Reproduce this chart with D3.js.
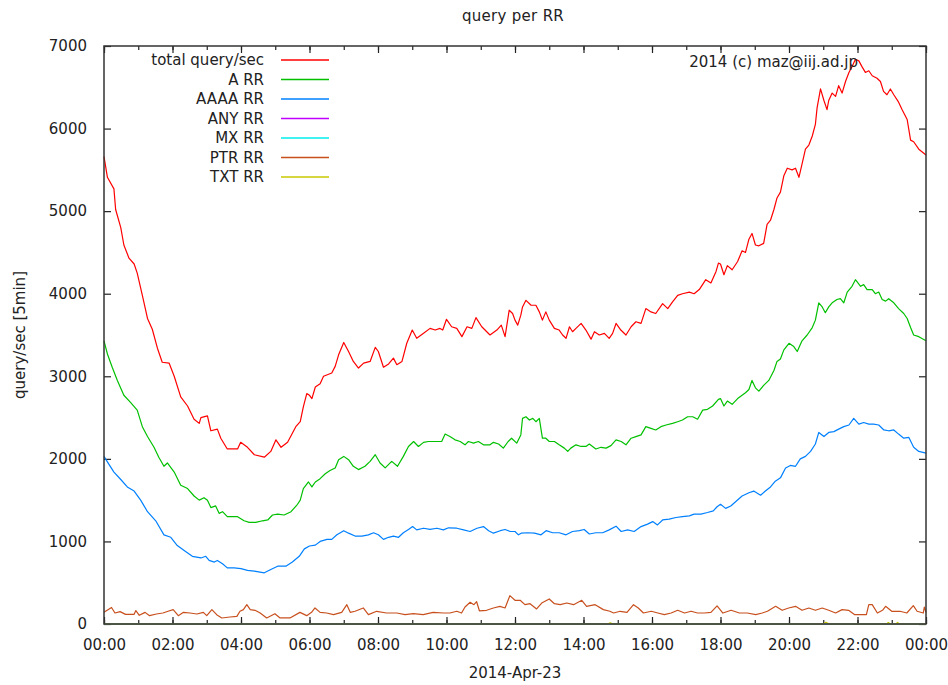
<!DOCTYPE html>
<html>
<head>
<meta charset="utf-8">
<script src="https://cdn.jsdelivr.net/npm/d3@7"></script>
<style>
  body { margin: 0; background: #fff; }
  svg text { font-family: "DejaVu Sans", sans-serif; fill: #222; }
</style>
</head>
<body>
<div id="chart"></div>
<script>
// series: [hour of day, query/sec]
const totalQuery = [[0,5660],[0.1,5410],[0.29,5270],[0.34,5020],[0.49,4800],[0.58,4590],[0.73,4430],[0.88,4360],[0.97,4250],[1.12,3980],[1.27,3700],[1.41,3570],[1.56,3340],[1.7,3170],[1.9,3160],[2.05,3000],[2.24,2750],[2.44,2640],[2.63,2480],[2.78,2430],[2.83,2500],[3.02,2520],[3.12,2340],[3.31,2360],[3.41,2250],[3.6,2120],[3.9,2120],[3.99,2200],[4.19,2140],[4.39,2050],[4.68,2020],[4.87,2090],[5.02,2230],[5.17,2140],[5.36,2200],[5.6,2390],[5.73,2450],[5.82,2630],[5.92,2790],[6.0,2770],[6.07,2730],[6.17,2870],[6.31,2910],[6.41,3000],[6.65,3040],[6.75,3120],[6.85,3260],[7.0,3410],[7.14,3300],[7.28,3180],[7.43,3100],[7.58,3160],[7.77,3180],[7.92,3350],[8.01,3300],[8.16,3110],[8.31,3150],[8.45,3220],[8.55,3140],[8.7,3180],[8.84,3400],[9.0,3560],[9.13,3460],[9.33,3520],[9.52,3580],[9.67,3560],[9.81,3580],[9.89,3560],[10.0,3690],[10.15,3600],[10.3,3580],[10.45,3480],[10.6,3600],[10.74,3580],[10.86,3710],[11.03,3600],[11.27,3500],[11.47,3560],[11.6,3620],[11.71,3480],[11.83,3800],[11.93,3760],[12.0,3680],[12.08,3620],[12.17,3740],[12.22,3840],[12.32,3920],[12.47,3860],[12.61,3860],[12.71,3780],[12.8,3680],[12.9,3780],[13.0,3680],[13.15,3580],[13.29,3560],[13.39,3500],[13.49,3460],[13.59,3600],[13.68,3540],[13.78,3580],[13.93,3640],[14.07,3560],[14.22,3450],[14.32,3540],[14.46,3500],[14.61,3520],[14.75,3460],[14.85,3520],[14.95,3640],[15.09,3560],[15.24,3500],[15.39,3600],[15.53,3660],[15.68,3640],[15.82,3820],[15.97,3780],[16.11,3760],[16.31,3880],[16.46,3820],[16.6,3900],[16.75,3980],[16.89,4000],[17.09,4020],[17.23,4000],[17.38,4050],[17.57,4170],[17.72,4130],[17.87,4270],[17.94,4370],[18.0,4360],[18.1,4230],[18.2,4340],[18.34,4290],[18.5,4390],[18.63,4520],[18.73,4500],[18.83,4660],[18.92,4730],[19.02,4590],[19.12,4580],[19.26,4610],[19.36,4840],[19.46,4890],[19.56,5020],[19.65,5160],[19.75,5230],[19.85,5430],[19.95,5520],[20.09,5500],[20.19,5520],[20.29,5410],[20.38,5570],[20.48,5750],[20.58,5800],[20.68,5910],[20.77,6050],[20.82,6250],[20.92,6480],[21.02,6340],[21.11,6230],[21.16,6340],[21.26,6430],[21.36,6390],[21.45,6520],[21.55,6430],[21.65,6570],[21.75,6680],[21.84,6750],[21.94,6840],[22.04,6820],[22.13,6750],[22.23,6680],[22.33,6700],[22.43,6640],[22.57,6610],[22.67,6570],[22.76,6450],[22.86,6410],[22.96,6480],[23.06,6410],[23.2,6320],[23.3,6230],[23.45,6110],[23.55,5860],[23.64,5840],[23.79,5750],[24,5680]];

const aRR = [[0,3430],[0.1,3270],[0.24,3110],[0.39,2950],[0.58,2770],[0.78,2680],[0.97,2590],[1.12,2390],[1.27,2270],[1.46,2140],[1.6,2020],[1.75,1910],[1.85,1950],[2.05,1840],[2.24,1680],[2.44,1640],[2.63,1550],[2.78,1500],[2.92,1530],[3.02,1500],[3.12,1410],[3.26,1430],[3.36,1340],[3.46,1360],[3.6,1300],[3.9,1300],[4.09,1250],[4.24,1230],[4.43,1230],[4.63,1250],[4.78,1260],[4.92,1320],[5.07,1330],[5.26,1320],[5.46,1360],[5.65,1450],[5.73,1500],[5.82,1640],[5.97,1720],[6.07,1660],[6.17,1720],[6.31,1760],[6.46,1820],[6.6,1860],[6.75,1890],[6.85,1990],[7.0,2030],[7.14,1990],[7.28,1910],[7.43,1870],[7.62,1910],[7.77,1970],[7.92,2050],[8.06,1950],[8.21,1890],[8.4,1970],[8.57,1910],[8.74,2030],[8.89,2150],[9.04,2210],[9.18,2150],[9.33,2200],[9.47,2210],[9.62,2210],[9.86,2210],[9.96,2300],[10.1,2270],[10.25,2230],[10.4,2210],[10.54,2170],[10.64,2210],[10.79,2190],[10.93,2210],[11.08,2170],[11.27,2170],[11.37,2200],[11.52,2180],[11.66,2130],[11.8,2210],[11.9,2250],[12.05,2190],[12.17,2290],[12.22,2490],[12.32,2510],[12.42,2470],[12.52,2490],[12.61,2450],[12.71,2490],[12.8,2250],[12.9,2250],[13.0,2210],[13.15,2210],[13.29,2170],[13.44,2130],[13.54,2090],[13.63,2130],[13.78,2170],[13.93,2150],[14.07,2150],[14.17,2180],[14.36,2120],[14.51,2140],[14.66,2130],[14.8,2160],[14.95,2230],[15.1,2210],[15.24,2170],[15.39,2250],[15.53,2270],[15.68,2290],[15.82,2390],[15.97,2370],[16.11,2350],[16.26,2390],[16.41,2410],[16.6,2430],[16.75,2450],[16.89,2470],[17.04,2510],[17.19,2510],[17.33,2480],[17.48,2590],[17.62,2600],[17.77,2640],[17.94,2720],[18.0,2730],[18.1,2640],[18.2,2700],[18.34,2660],[18.5,2730],[18.63,2770],[18.73,2800],[18.83,2840],[18.92,2950],[19.02,2860],[19.12,2820],[19.26,2890],[19.41,2950],[19.56,3070],[19.65,3180],[19.75,3210],[19.85,3320],[20.0,3400],[20.14,3360],[20.24,3300],[20.38,3430],[20.53,3500],[20.68,3590],[20.77,3680],[20.87,3890],[20.97,3840],[21.06,3770],[21.16,3840],[21.26,3890],[21.4,3930],[21.5,3940],[21.6,3890],[21.7,4020],[21.84,4090],[21.94,4170],[22.09,4090],[22.18,4110],[22.28,4050],[22.43,4050],[22.52,4000],[22.62,4020],[22.72,3930],[22.82,3910],[22.91,3940],[23.06,3890],[23.2,3820],[23.35,3760],[23.45,3700],[23.55,3590],[23.64,3500],[23.79,3480],[24,3430]];

const aaaaRR = [[0,2030],[0.15,1930],[0.29,1840],[0.49,1750],[0.68,1660],[0.88,1610],[1.07,1500],[1.27,1360],[1.51,1250],[1.75,1080],[1.95,1050],[2.14,950],[2.34,890],[2.58,820],[2.83,800],[2.97,820],[3.07,770],[3.22,750],[3.31,770],[3.46,730],[3.6,680],[3.8,680],[4.0,670],[4.19,650],[4.39,640],[4.68,620],[4.87,660],[5.07,700],[5.31,700],[5.5,750],[5.7,820],[5.85,910],[6.0,945],[6.17,955],[6.31,1000],[6.51,1025],[6.65,1025],[6.8,1080],[7.0,1130],[7.14,1100],[7.33,1065],[7.53,1065],[7.72,1080],[7.87,1105],[8.01,1080],[8.16,1025],[8.31,1050],[8.45,1065],[8.6,1050],[8.74,1105],[8.89,1145],[9.01,1180],[9.13,1140],[9.33,1160],[9.52,1145],[9.72,1160],[9.91,1140],[10.06,1165],[10.3,1160],[10.5,1140],[10.69,1120],[10.89,1160],[11.08,1180],[11.23,1130],[11.37,1100],[11.57,1130],[11.71,1145],[11.86,1120],[12.0,1120],[12.1,1080],[12.18,1100],[12.37,1105],[12.57,1100],[12.76,1080],[12.91,1130],[13.1,1105],[13.29,1105],[13.49,1080],[13.68,1120],[13.88,1130],[14.02,1145],[14.17,1090],[14.36,1105],[14.56,1105],[14.75,1140],[14.95,1185],[15.1,1120],[15.29,1140],[15.48,1120],[15.68,1180],[15.87,1210],[16.02,1240],[16.16,1200],[16.31,1260],[16.5,1270],[16.7,1290],[16.89,1300],[17.09,1310],[17.23,1330],[17.43,1330],[17.62,1350],[17.79,1370],[17.9,1420],[18.0,1450],[18.15,1400],[18.3,1430],[18.44,1480],[18.63,1550],[18.83,1590],[18.97,1610],[19.17,1560],[19.31,1610],[19.46,1660],[19.6,1730],[19.75,1770],[19.9,1890],[20.04,1920],[20.19,1910],[20.33,2000],[20.48,2030],[20.63,2090],[20.77,2180],[20.87,2320],[21.02,2270],[21.16,2320],[21.31,2330],[21.45,2360],[21.6,2390],[21.75,2410],[21.89,2490],[22.04,2420],[22.18,2440],[22.33,2420],[22.47,2420],[22.62,2410],[22.77,2350],[22.91,2340],[23.06,2350],[23.2,2300],[23.35,2250],[23.5,2260],[23.64,2140],[23.79,2090],[24,2070]];

const anyRR = [[0,0],[24,0]];
const mxRR = [[0,0],[24,0]];

const ptrRR = [[0,141],[0.22,200],[0.32,133],[0.47,150],[0.63,117],[0.88,117],[0.93,162],[1.03,105],[1.2,141],[1.33,101],[1.53,121],[1.72,133],[1.87,154],[2.02,174],[2.17,101],[2.32,141],[2.51,133],[2.71,121],[2.9,141],[3.0,101],[3.15,174],[3.29,113],[3.44,73],[3.68,85],[3.88,93],[3.97,154],[4.07,174],[4.17,234],[4.27,174],[4.41,166],[4.56,133],[4.75,73],[4.99,125],[5.14,73],[5.43,73],[5.72,141],[5.92,101],[6.06,141],[6.16,194],[6.31,141],[6.5,133],[6.7,113],[6.94,141],[7.09,234],[7.19,141],[7.33,154],[7.57,194],[7.72,113],[7.96,154],[8.25,133],[8.55,133],[8.79,113],[9.03,125],[9.32,113],[9.61,141],[9.91,133],[10.1,133],[10.3,154],[10.44,133],[10.54,206],[10.69,263],[10.8,234],[10.88,270],[10.96,160],[11.17,166],[11.37,194],[11.56,214],[11.71,194],[11.85,343],[12.0,287],[12.15,287],[12.29,234],[12.44,246],[12.63,182],[12.78,254],[13.0,303],[13.15,246],[13.32,234],[13.51,254],[13.71,234],[13.95,287],[14.09,214],[14.34,234],[14.58,174],[14.77,154],[14.88,133],[15.07,154],[15.27,141],[15.46,234],[15.6,194],[15.75,133],[15.98,154],[16.17,133],[16.36,113],[16.56,133],[16.75,166],[16.95,133],[17.14,154],[17.33,133],[17.53,133],[17.72,141],[17.9,220],[18.07,133],[18.31,166],[18.55,133],[18.78,133],[19.03,113],[19.22,133],[19.37,154],[19.61,214],[19.8,166],[19.99,194],[20.19,214],[20.38,166],[20.58,194],[20.77,166],[20.97,194],[21.16,166],[21.36,133],[21.55,174],[21.74,166],[21.92,113],[22.26,113],[22.33,234],[22.43,234],[22.58,133],[22.73,166],[22.82,214],[23.0,154],[23.24,154],[23.44,133],[23.63,222],[23.74,154],[23.92,133],[23.95,206],[24,141]];

const txtRR = [[0,4],[0.05,0],[14.7,0],[14.78,14],[14.86,0],[21.0,0],[21.08,22],[21.18,0],[22.85,0],[22.9,18],[22.96,0],[23.12,0],[23.17,20],[23.22,0],[24,0]];

const seriesNames = ["total query/sec", "A RR", "AAAA RR", "ANY RR", "MX RR", "PTR RR", "TXT RR"];
const seriesColors = ["#ff0000", "#00c000", "#0080ff", "#c000ff", "#00eeee", "#c8501e", "#c8c800"];
const seriesData = [totalQuery, aRR, aaaaRR, anyRR, mxRR, ptrRR, txtRR];

const yTicks = [0, 1000, 2000, 3000, 4000, 5000, 6000, 7000];
const dayLabel = "2014-Apr-23";

const width = 948, height = 685;
const plot = { left: 104, right: 926, top: 46, bottom: 624 };
const fontSize = '15px';
const day0 = new Date(2014, 3, 23);
const toDate = h => new Date(day0.getTime() + h * 3600e3);

const svg = d3.select('#chart').append('svg')
    .attr('width', width)
    .attr('height', height);

const x = d3.scaleTime()
    .domain([day0, toDate(24)])
    .range([plot.left, plot.right]);

const y = d3.scaleLinear()
    .domain([0, 7000])
    .range([plot.bottom, plot.top]);

// title and axis labels
svg.append('text')
    .attr('x', 513).attr('y', 21)
    .attr('text-anchor', 'middle')
    .style('font-size', fontSize)
    .style('letter-spacing', '0.3px')
    .text('query per RR');

svg.append('text')
    .attr('transform', `translate(25, ${(plot.top + plot.bottom) / 2}) rotate(-90)`)
    .attr('text-anchor', 'middle')
    .style('font-size', fontSize)
    .text('query/sec [5min]');

svg.append('text')
    .attr('x', (plot.left + plot.right) / 2).attr('y', 678)
    .attr('text-anchor', 'middle')
    .style('font-size', fontSize)
    .text(dayLabel);

// axes (ticks point inward, like gnuplot)
const fmt = d3.timeFormat('%H:%M');
const xBottom = svg.append('g')
    .attr('transform', `translate(0, ${plot.bottom})`)
    .call(d3.axisBottom(x).ticks(d3.timeHour.every(2)).tickFormat(fmt).tickSize(-7).tickPadding(15));
const xBottomMinor = svg.append('g')
    .attr('transform', `translate(0, ${plot.bottom})`)
    .call(d3.axisBottom(x).ticks(d3.timeHour.every(1)).tickFormat('').tickSize(-4));
const xTop = svg.append('g')
    .attr('transform', `translate(0, ${plot.top})`)
    .call(d3.axisTop(x).ticks(d3.timeHour.every(2)).tickFormat('').tickSize(-7));
const xTopMinor = svg.append('g')
    .attr('transform', `translate(0, ${plot.top})`)
    .call(d3.axisTop(x).ticks(d3.timeHour.every(1)).tickFormat('').tickSize(-4));
const yLeft = svg.append('g')
    .attr('transform', `translate(${plot.left}, 0)`)
    .call(d3.axisLeft(y).tickValues(yTicks).tickFormat(d3.format('d')).tickSize(-7).tickPadding(17));
const yRight = svg.append('g')
    .attr('transform', `translate(${plot.right}, 0)`)
    .call(d3.axisRight(y).tickValues(yTicks).tickFormat('').tickSize(-7));

[xBottom, xBottomMinor, xTop, xTopMinor, yLeft, yRight].forEach(g => {
    g.select('.domain').remove();
    g.selectAll('line').attr('stroke', '#222').attr('stroke-width', 1.2);
    g.selectAll('text').style('font-family', '"DejaVu Sans", sans-serif').style('font-size', fontSize).attr('fill', '#222');
});

// data lines
const line = d3.line()
    .x(d => x(toDate(d[0])))
    .y(d => y(d[1]));

seriesData.forEach((data, i) => {
    svg.append('path')
        .datum(data)
        .attr('fill', 'none')
        .attr('stroke', seriesColors[i])
        .attr('stroke-width', 1.2)
        .attr('stroke-linejoin', 'round')
        .attr('d', line);
});

// border
svg.append('rect')
    .attr('x', plot.left).attr('y', plot.top)
    .attr('width', plot.right - plot.left)
    .attr('height', plot.bottom - plot.top)
    .attr('fill', 'none')
    .attr('stroke', '#333')
    .attr('stroke-width', 1.5);

// legend
const legend = svg.append('g');
seriesNames.forEach((name, i) => {
    const ly = 60 + i * 19.5;
    legend.append('text')
        .attr('x', 264).attr('y', ly + 5)
        .attr('text-anchor', 'end')
        .style('font-size', fontSize)
        .text(name);
    legend.append('line')
        .attr('x1', 281).attr('x2', 329)
        .attr('y1', ly).attr('y2', ly)
        .attr('stroke', seriesColors[i])
        .attr('stroke-width', 1.3);
});

svg.append('text')
    .attr('x', 858).attr('y', 67)
    .attr('text-anchor', 'end')
    .style('font-size', fontSize)
    .text('2014 (c) maz@iij.ad.jp');
</script>
</body>
</html>
